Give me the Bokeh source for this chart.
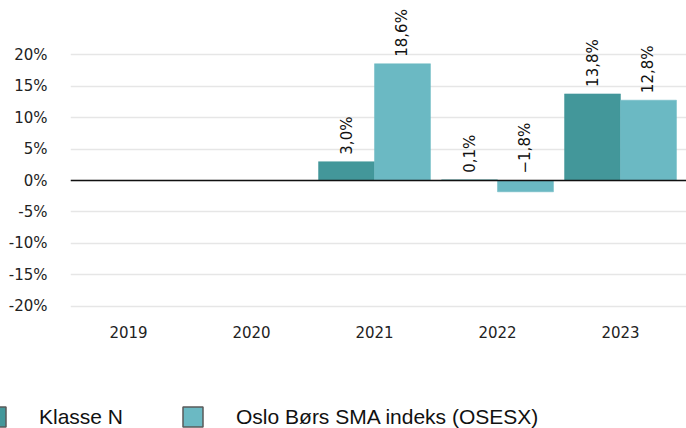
import math
from bokeh.plotting import figure
from bokeh.layouts import column
from bokeh.models import (ColumnDataSource, FixedTicker, PrintfTickFormatter, Legend,
                          LegendItem, Span, Range1d)
from bokeh.core.properties import value
from bokeh.embed import file_html
from bokeh.resources import INLINE

years = ["2019", "2020", "2021", "2022", "2023"]
klasse_n = [None, None, 3.0, 0.1, 13.8]
osesx = [None, None, 18.6, -1.8, 12.8]
series_names = ["Klasse N", "Oslo Børs SMA indeks (OSESX)"]
y_ticks = [-20, -15, -10, -5, 0, 5, 10, 15, 20]
colors = ["#43979A", "#6BB9C3"]

BAR_W = 0.455
TICK_FONT = "DejaVu Sans"

p = figure(width=686, height=345, output_backend="svg", toolbar_location=None,
           x_range=Range1d(-0.4715, 4.5366), y_range=Range1d(-21.51, 28.68),
           min_border_left=70, min_border_right=0, min_border_top=0,
           min_border_bottom=30)
p.outline_line_color = None
p.background_fill_color = "white"
p.border_fill_color = "white"

# grid / axes
p.xgrid.grid_line_color = None
p.ygrid.grid_line_color = "#e6e6e6"
p.ygrid.grid_line_width = 1.5
p.yaxis.ticker = FixedTicker(ticks=y_ticks)
p.yaxis.formatter = PrintfTickFormatter(format="%d%%")
p.xaxis.ticker = FixedTicker(ticks=list(range(len(years))))
p.xaxis.major_label_overrides = {i: y for i, y in enumerate(years)}
for ax in (p.xaxis, p.yaxis):
    ax.axis_line_color = None
    ax.major_tick_line_color = None
    ax.minor_tick_line_color = None
    ax.major_tick_out = 0
    ax.major_tick_in = 0
    ax.major_label_text_font = TICK_FONT
    ax.major_label_text_font_size = "15px"
    ax.major_label_text_color = "#222222"
p.yaxis.major_label_standoff = 23
p.xaxis.major_label_standoff = 10

# legend figure
leg = figure(width=686, height=83, output_backend="svg", toolbar_location=None,
             x_axis_type=None, y_axis_type=None, min_border=0,
             x_range=Range1d(0, 1), y_range=Range1d(0, 1))
leg.outline_line_color = None
leg.xgrid.visible = False
leg.ygrid.visible = False
for fig in (p, leg):
    if hasattr(fig, "frame_align"):
        fig.frame_align = False

series = [klasse_n, osesx]
offsets = [-BAR_W / 2, BAR_W / 2]
legend_items = []
for vals, off, col, name in zip(series, offsets, colors, series_names):
    xs, tops, ly, labels = [], [], [], []
    for i, v in enumerate(vals):
        if v is None:
            continue
        xs.append(i + off)
        tops.append(v)
        ly.append(max(v, 0))
        labels.append(f"{v:.1f}".replace(".", ",").replace("-", "\u2212") + "%")
    src = ColumnDataSource(dict(x=xs, top=tops, ly=ly, label=labels))
    p.vbar(x="x", top="top", bottom=0, width=BAR_W, source=src,
           fill_color=col, line_color=col, line_width=0.5)
    p.text(x="x", y="ly", text="label", source=src, angle=math.pi / 2,
           text_align="left", text_baseline="middle", y_offset=-7,
           text_font=value(TICK_FONT), text_font_size="15px", text_color="#111111")
    # legend swatch renderer (not drawn in the plot itself)
    swatch = leg.vbar(x="x", top="top", bottom=0, width=BAR_W, source=src,
                      fill_color=col, line_color="#5a5a5a", line_width=1.5,
                      visible=False)
    legend_items.append(LegendItem(label=name, renderers=[swatch]))

p.add_layout(Span(location=0, dimension="width", line_color="#111111", line_width=1.3))

legend = Legend(items=legend_items, orientation="horizontal", location=(-17, -1),
                glyph_width=25, glyph_height=25, label_standoff=31, spacing=57,
                padding=0, margin=0, border_line_alpha=0, background_fill_alpha=0,
                label_text_font="Liberation Sans", label_text_font_size="21px",
                label_text_color="#111111", label_text_baseline="middle",
                click_policy="none")
leg.add_layout(legend, "center")

layout = column(p, leg, spacing=0)
open("out.html", "w").write(file_html(layout, INLINE))
